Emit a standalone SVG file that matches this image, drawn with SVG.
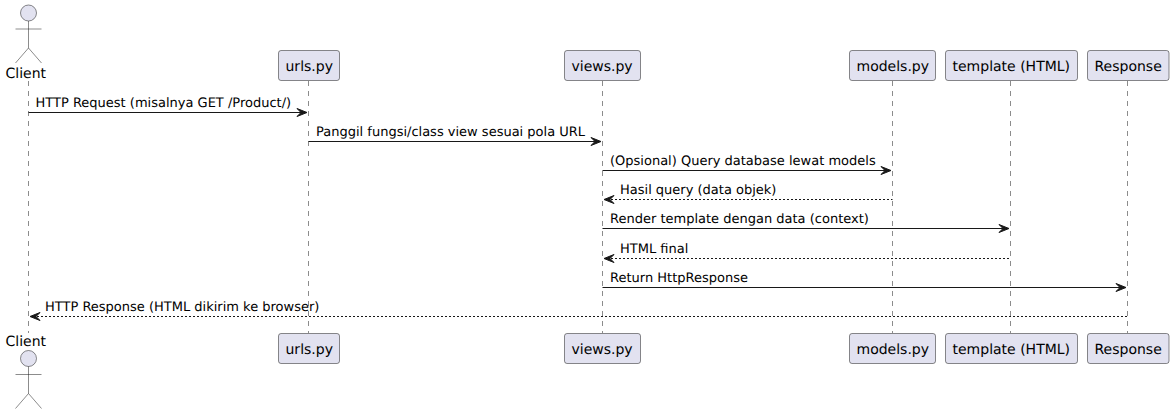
<svg xmlns="http://www.w3.org/2000/svg" width="1174" height="414" viewBox="0 0 1174 414">
<style>
text{font-family:"DejaVu Sans",sans-serif;fill:#000;text-rendering:geometricPrecision}
.n{font-size:14px}
.m{font-size:13px}
.life{stroke:#181818;stroke-width:.5;stroke-dasharray:5 5;fill:none}
.box{fill:#E2E2F0;stroke:#181818;stroke-width:.5}
.act{fill:none;stroke:#181818;stroke-width:.5}
.head{fill:#E2E2F0;stroke:#181818;stroke-width:.5}
.msg{stroke:#181818;stroke-width:1;fill:none}
.ret{stroke:#181818;stroke-width:1;fill:none;stroke-dasharray:2 2}
.ah{fill:#181818;stroke:#181818;stroke-width:1}
</style>
<g id="connectors">
<path class="life" d="M28.5 81V333"/>
<path class="life" d="M308.5 81V333"/>
<path class="life" d="M602.5 81V333"/>
<path class="life" d="M892.5 81V333"/>
<path class="life" d="M1010.5 81V333"/>
<path class="life" d="M1127.5 81V333"/>
<path class="msg" d="M28.5 112.5H304"/><path class="ah" d="M297 108.5L307 112.5L297 116.5L301 112.5Z"/>
<path class="msg" d="M308.5 141.5H598"/><path class="ah" d="M591 137.5L601 141.5L591 145.5L595 141.5Z"/>
<path class="msg" d="M602.5 170.5H888"/><path class="ah" d="M881 166.5L891 170.5L881 174.5L885 170.5Z"/>
<path class="ret" d="M607 199.5H892.5"/><path class="ah" d="M614 195.5L604 199.5L614 203.5L610 199.5Z"/>
<path class="msg" d="M602.5 228.5H1006"/><path class="ah" d="M999 224.5L1009 228.5L999 232.5L1003 228.5Z"/>
<path class="ret" d="M607 258.5H1010.5"/><path class="ah" d="M614 254.5L604 258.5L614 262.5L610 258.5Z"/>
<path class="msg" d="M602.5 287.5H1123"/><path class="ah" d="M1116 283.5L1126 287.5L1116 291.5L1120 287.5Z"/>
<path class="ret" d="M33 316.5H1127.5"/><path class="ah" d="M40 312.5L30 316.5L40 320.5L36 316.5Z"/>
</g>
<g id="labels">
<text class="m" x="35.5" y="107">HTTP Request (misalnya GET /Product/)</text>
<text class="m" x="316" y="136">Panggil fungsi/class view sesuai pola URL</text>
<text class="m" x="610" y="165">(Opsional) Query database lewat models</text>
<text class="m" x="620" y="194">Hasil query (data objek)</text>
<text class="m" x="610" y="223">Render template dengan data (context)</text>
<text class="m" x="620" y="253">HTML final</text>
<text class="m" x="610" y="282">Return HttpResponse</text>
<text class="m" x="45" y="311">HTTP Response (HTML dikirim ke browser)</text>
</g>
<g id="client-top"><circle class="head" cx="28.5" cy="13" r="8"/><path class="act" d="M28.5 21V48M15.5 29H41.5M28.5 48L15.5 63M28.5 48L41.5 63"/><text class="n" x="5.5" y="78">Client</text></g>
<g id="client-bottom"><text class="n" x="5.5" y="346">Client</text><circle class="head" cx="28.5" cy="358.5" r="8"/><path class="act" d="M28.5 366.5V393.5M15.5 374.5H41.5M28.5 393.5L15.5 408.5M28.5 393.5L41.5 408.5"/></g>
<g id="urls-top"><rect class="box" x="278.5" y="50.5" width="61" height="30" rx="2.5"/><text class="n" x="285.5" y="71">urls.py</text></g>
<g id="urls-bottom"><rect class="box" x="278.5" y="333.5" width="61" height="30" rx="2.5"/><text class="n" x="285.5" y="354">urls.py</text></g>
<g id="views-top"><rect class="box" x="564.5" y="50.5" width="76" height="30" rx="2.5"/><text class="n" x="571.5" y="71">views.py</text></g>
<g id="views-bottom"><rect class="box" x="564.5" y="333.5" width="76" height="30" rx="2.5"/><text class="n" x="571.5" y="354">views.py</text></g>
<g id="models-top"><rect class="box" x="849.5" y="50.5" width="86" height="30" rx="2.5"/><text class="n" x="856.5" y="71">models.py</text></g>
<g id="models-bottom"><rect class="box" x="849.5" y="333.5" width="86" height="30" rx="2.5"/><text class="n" x="856.5" y="354">models.py</text></g>
<g id="template-top"><rect class="box" x="945.5" y="50.5" width="132" height="30" rx="2.5"/><text class="n" x="952.5" y="71">template (HTML)</text></g>
<g id="template-bottom"><rect class="box" x="945.5" y="333.5" width="132" height="30" rx="2.5"/><text class="n" x="952.5" y="354">template (HTML)</text></g>
<g id="response-top"><rect class="box" x="1087.5" y="50.5" width="81.5" height="30" rx="2.5"/><text class="n" x="1094.5" y="71">Response</text></g>
<g id="response-bottom"><rect class="box" x="1087.5" y="333.5" width="81.5" height="30" rx="2.5"/><text class="n" x="1094.5" y="354">Response</text></g>
</svg>
